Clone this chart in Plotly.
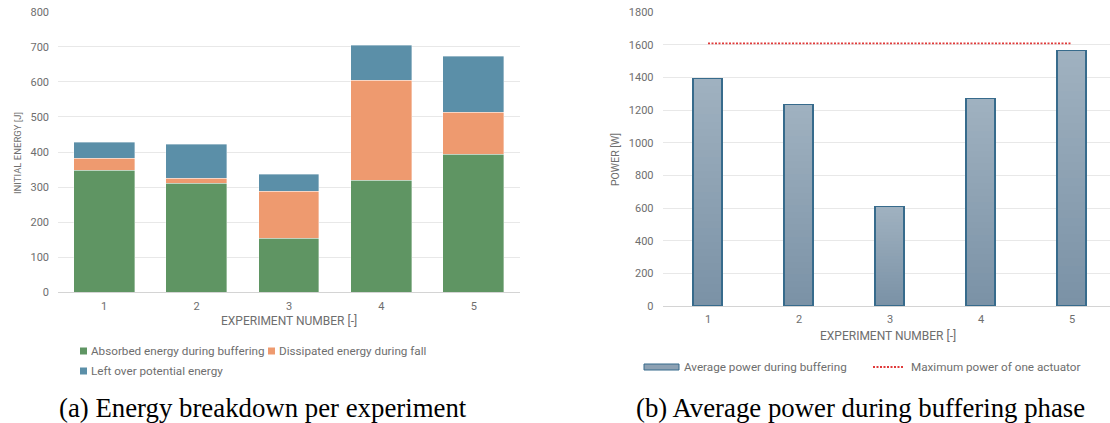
import plotly.graph_objects as go

# Experiment data
experiments = [1, 2, 3, 4, 5]
absorbed_energy = [347, 309, 152, 318, 392]     # J, absorbed during buffering
dissipated_energy = [34, 14, 135, 286, 121]     # J, dissipated during fall
leftover_energy = [46, 99, 49, 99, 158]         # J, left over potential energy
average_power = [1389, 1230, 605, 1268, 1562]   # W, average during buffering
max_actuator_power = 1610                       # W, one actuator

W, H = 1110, 423


def px(x):
    return x / W


def py(y):
    return 1 - y / H


GRAY = "#6e6e6e"
TICK_FONT = dict(family="Roboto", size=11, color=GRAY)
GREEN, ORANGE, BLUE = "#5f9563", "#ee9a6f", "#5b8fa8"
BAR2_TOP, BAR2_BOTTOM = (160, 177, 192), (122, 146, 166)
BAR2_EDGE = "#376b8c"
RED = "#e03a3a"
RED_DASH = "2px,1.5px"

fig = go.Figure()

# (a) stacked energy bars
for name, vals, col in [
    ("Absorbed energy during buffering", absorbed_energy, GREEN),
    ("Dissipated energy during fall", dissipated_energy, ORANGE),
    ("Left over potential energy", leftover_energy, BLUE),
]:
    fig.add_trace(go.Bar(
        x=experiments, y=vals, name=name, width=0.66,
        marker=dict(color=col, line=dict(width=0.6, color="rgba(255,255,255,0.6)")),
        xaxis="x", yaxis="y", showlegend=False,
    ))

# (b) power bars, shaded top-to-bottom with thin stacked bands
N_BANDS = 32
for k in range(N_BANDS):
    t = (k + 0.5) / N_BANDS
    rgb = tuple(round(b + (a - b) * t) for a, b in zip(BAR2_TOP, BAR2_BOTTOM))
    fig.add_trace(go.Bar(
        x=experiments, y=[v / N_BANDS for v in average_power],
        width=0.32, marker=dict(color="rgb(%d,%d,%d)" % rgb, line=dict(width=0)),
        xaxis="x2", yaxis="y2", showlegend=False, hoverinfo="skip",
    ))
fig.add_trace(go.Bar(
    x=experiments, y=average_power, name="Average power during buffering",
    width=0.32, marker=dict(color="rgba(0,0,0,0)", line=dict(width=1.3, color=BAR2_EDGE)),
    xaxis="x3", yaxis="y3", showlegend=False,
))
fig.add_trace(go.Scatter(
    x=[experiments[0], experiments[-1]], y=[max_actuator_power] * 2,
    mode="lines", name="Maximum power of one actuator",
    line=dict(color=RED, width=1.8, dash=RED_DASH),
    xaxis="x3", yaxis="y3", showlegend=False,
))

axis_common = dict(showgrid=False, ticks="", tickfont=TICK_FONT, fixedrange=True,
                   automargin=False)
grid_axis = dict(showgrid=True, gridcolor="#e8e8e8", gridwidth=1, zeroline=False,
                 ticklabelstandoff=8, tickfont=TICK_FONT, ticks="",
                 fixedrange=True, automargin=False)
x2_dom = [px(662.5), 1.0]
x2_rng = [0.5, 5.418]
y2_dom = [py(306), py(12.3)]

fig.update_layout(
    width=W, height=H, margin=dict(l=0, r=0, t=0, b=0),
    paper_bgcolor="white", plot_bgcolor="white",
    barmode="stack", bargap=0,
    xaxis=dict(domain=[px(58), px(520)], range=[0.5, 5.5], tickvals=experiments,
               showline=True, linecolor="#d4d4d4", linewidth=1,
               ticklabelstandoff=3, anchor="y", **axis_common),
    yaxis=dict(domain=[py(292.3), py(11.7)], range=[0, 800], dtick=100,
               anchor="x", **grid_axis),
    xaxis2=dict(domain=x2_dom, range=x2_rng, tickvals=experiments,
                showline=True, linecolor="#d4d4d4", linewidth=1,
                ticklabelstandoff=3, anchor="y2", **axis_common),
    yaxis2=dict(domain=y2_dom, range=[0, 1800], dtick=200,
                anchor="x2", **grid_axis),
    xaxis3=dict(domain=x2_dom, range=x2_rng, overlaying="x2", visible=False,
                anchor="y3", fixedrange=True, automargin=False),
    yaxis3=dict(domain=y2_dom, range=[0, 1800], overlaying="y2", visible=False,
                anchor="x3", fixedrange=True, automargin=False),
    showlegend=False,
)

xtitle = dict(family="Roboto", size=12, color=GRAY)
leg = dict(family="Roboto", size=11.7, color=GRAY)
serif = dict(family="Liberation Serif", size=26.8, color="black")

annotations = [
    # axis titles
    dict(x=px(289), y=py(321), text="EXPERIMENT NUMBER [-]", font=xtitle),
    dict(x=px(888), y=py(336), text="EXPERIMENT NUMBER [-]", font=xtitle),
    dict(x=px(17), y=py(153), text="INITIAL ENERGY [J]",
         font=dict(family="Roboto", size=9.5, color=GRAY), textangle=-90),
    dict(x=px(615), y=py(160), text="POWER [W]",
         font=dict(family="Roboto", size=10.5, color=GRAY), textangle=-90),
    # legend labels
    dict(x=px(89), y=py(351), text="Absorbed energy during buffering", font=leg, xanchor="left"),
    dict(x=px(277), y=py(351), text="Dissipated energy during fall", font=leg, xanchor="left"),
    dict(x=px(89), y=py(371), text="Left over potential energy", font=leg, xanchor="left"),
    dict(x=px(682), y=py(367), text="Average power during buffering", font=leg, xanchor="left"),
    dict(x=px(909), y=py(367), text="Maximum power of one actuator", font=leg, xanchor="left"),
    # captions
    dict(x=px(263), y=py(408), text="(a) Energy breakdown per experiment", font=serif),
    dict(x=px(860), y=py(408), text="(b) Average power during buffering phase", font=serif),
]
for a in annotations:
    a.setdefault("xanchor", "center")
    a.update(xref="paper", yref="paper", yanchor="middle", showarrow=False)
fig.update_layout(annotations=annotations)

mid = "rgb(%d,%d,%d)" % tuple((a + b) // 2 for a, b in zip(BAR2_TOP, BAR2_BOTTOM))
shapes = [
    dict(type="rect", x0=px(80), x1=px(87), y0=py(354.5), y1=py(347.5),
         fillcolor=GREEN, line=dict(width=0)),
    dict(type="rect", x0=px(268), x1=px(275), y0=py(354.5), y1=py(347.5),
         fillcolor=ORANGE, line=dict(width=0)),
    dict(type="rect", x0=px(80), x1=px(87), y0=py(374.5), y1=py(367.5),
         fillcolor=BLUE, line=dict(width=0)),
    dict(type="rect", x0=px(644), x1=px(679), y0=py(370), y1=py(364),
         fillcolor=mid, line=dict(width=1, color=BAR2_EDGE)),
    dict(type="line", x0=px(873), x1=px(903), y0=py(367), y1=py(367),
         line=dict(width=1.8, color=RED, dash=RED_DASH)),
]
for s in shapes:
    s.update(xref="paper", yref="paper")
fig.update_layout(shapes=shapes)

fig.write_html("out.html")
